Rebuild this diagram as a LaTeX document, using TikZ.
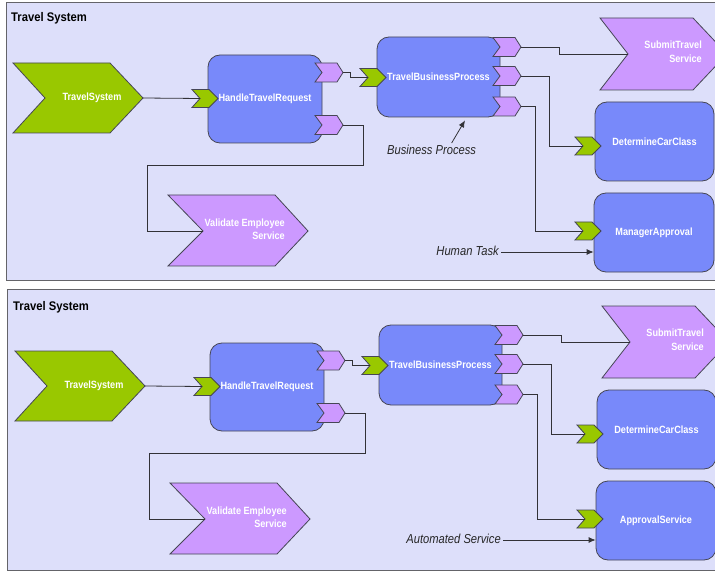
\documentclass[tikz,border=0pt]{standalone}
\usepackage{fontspec}
\usetikzlibrary{calc,arrows.meta}

\newfontfamily\boxfont[FakeStretch=0.87]{Liberation Sans}
\newfontfamily\notefont[FakeStretch=0.86]{Liberation Sans}
\newfontfamily\titlefont[FakeStretch=0.9]{Liberation Sans}

\definecolor{panelbg}{RGB}{221,223,250}
\definecolor{framegray}{RGB}{100,100,105}
\definecolor{edge}{RGB}{70,70,85}
\definecolor{wiregray}{RGB}{50,50,55}
\definecolor{compblue}{RGB}{120,137,250}
\definecolor{portgreen}{RGB}{153,200,0}
\definecolor{portpurple}{RGB}{204,153,255}

\tikzset{
  panel/.style={fill=panelbg, draw=framegray, line width=1pt},
  paneltitle/.style={font=\titlefont\bfseries\fontsize{12.5}{14}\selectfont, inner sep=0pt},
  boxtext/.style={font=\boxfont\bfseries\fontsize{10.5}{13.5}\selectfont, text=white, inner sep=0pt},
  compbox/.style={boxtext, rounded corners=12pt, fill=compblue, draw=edge, line width=0.8pt},
  chevron/.style={draw=edge, line width=0.8pt},
  wire/.style={draw=wiregray, line width=0.8pt},
  note/.style={font=\notefont\itshape\fontsize{13}{15}\selectfont, text=black!85, inner sep=0pt},
  notearrow/.style={wire, -{Latex[length=7pt,width=6pt]}},
}

% output port: purple chevron, #1 = name of its outer tip, #2 = left x, #3 = centre y
\newcommand\outport[3]{%
  \filldraw[chevron, fill=portpurple] (#2,#3-9.5) -- ++(22,0) -- ++(6,9.5) -- ++(-6,9.5)
    -- ++(-22,0) -- ++(7,-9.5) -- cycle;
  \coordinate (#1) at (#2+28,#3);}
% input port: green chevron, #1 = name of its notch, #2 = left x, #3 = centre y
\newcommand\inport[3]{%
  \filldraw[chevron, fill=portgreen] (#2,#3-9) -- ++(17,0) -- ++(9,9) -- ++(-9,9)
    -- ++(-17,0) -- ++(8,-9) -- cycle;
  \coordinate (#1) at (#2+8,#3);}

% one assembly diagram; #1 = approval component, #2 = note on it
\newcommand\travelpanel[2]{%
  \node[paneltitle, anchor=base west] (title) at (11,22) {Travel System};
  % components
  \node[compbox, minimum width=114pt, minimum height=88pt] (htr) at (265,99) {HandleTravelRequest};
  \node[compbox, minimum width=123pt, minimum height=80pt] (tbp) at (438.5,77) {TravelBusinessProcess};
  \node[compbox, minimum width=119pt, minimum height=79pt] (dcc) at (654.5,141.5) {DetermineCarClass};
  \node[compbox, minimum width=120pt, minimum height=79pt] (svc) at (654,232.5) {#1};
  % service chevrons
  \filldraw[chevron, fill=portgreen] (13,63) -- (110,63) -- (143,98) -- (110,133) -- (13,133) -- (45,98) -- cycle;
  \node[boxtext] (tsys) at (92,97.5) {TravelSystem};
  \coordinate (tsys-out) at (143,98);
  \filldraw[chevron, fill=portpurple] (600,18) -- (693,18) -- (727,54) -- (693,90) -- (600,90) -- (628,54) -- cycle;
  \node[boxtext, align=right, anchor=east] (submit) at (702,51.5) {SubmitTravel\\Service};
  \coordinate (submit-in) at (628,54);
  \filldraw[chevron, fill=portpurple] (168,195) -- (275,195) -- (308,231) -- (275,266) -- (168,266) -- (203,231) -- cycle;
  \node[boxtext, align=right, anchor=east] (validate) at (285,229) {Validate Employee\\Service};
  \coordinate (validate-in) at (203,231);
  % ports
  \inport{htr-in}{192}{98.5}
  \outport{htr-o1}{315}{72.5}
  \outport{htr-o2}{315}{125}
  \inport{tbp-in}{360}{77.5}
  \outport{tbp-o1}{493}{47}
  \outport{tbp-o2}{493}{76}
  \outport{tbp-o3}{493}{106.5}
  \inport{dcc-in}{575}{146}
  \inport{svc-in}{575}{231}
  % wiring
  \draw[wire] (tsys-out) -- (htr-in);
  \draw[wire] (htr-o1) -- ++(7,0) |- (tbp-in);
  \draw[wire] (htr-o2) -- ++(20,0) -- ++(0,40) -| (147,231) -- (validate-in);
  \draw[wire] (tbp-o1) -- ++(38,0) |- (submit-in);
  \draw[wire] (tbp-o2) -- ++(28,0) |- (dcc-in);
  \draw[wire] (tbp-o3) -- ++(14,0) |- (svc-in);
  % note on the approval component
  \node[note, anchor=east] (ann) at (499,250.5) {#2};
  \coordinate (ann-tail) at ($(ann.east)+(2,1.5)$);
  \draw[notearrow] (ann-tail) -- (ann-tail -| svc.west);
}

\begin{document}
\begin{tikzpicture}[x=1pt, y=-1pt]
  \useasboundingbox (0,0) rectangle (715,572);
  \clip (0,0) rectangle (715,572);
  \fill[white] (0,0) rectangle (715,572);
  \draw[panel] (6,3) rectangle (740,280);
  \draw[panel] (7,289) rectangle (740,570);
  \begin{scope}[name prefix=t-]
    \travelpanel{ManagerApproval}{Human Task}
    \node[note, anchor=west] (bpnote) at (387,150) {Business Process};
    \draw[notearrow] ($(bpnote.north)+(20,-2)$) -- ($(tbp.south)+(26.5,3)$);
  \end{scope}
  \begin{scope}[shift={(2,288)}, name prefix=b-]
    \travelpanel{ApprovalService}{Automated Service}
  \end{scope}
\end{tikzpicture}
\end{document}
